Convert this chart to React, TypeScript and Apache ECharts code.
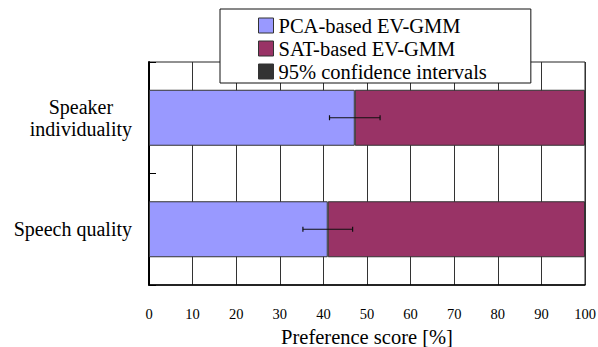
import React, { useEffect, useRef } from "react";
import * as echarts from "echarts";

const categories = ["Speaker\nindividuality", "Speech quality"];
const seriesNames = ["PCA-based EV-GMM", "SAT-based EV-GMM", "95% confidence intervals"];
const pcaScores = [47.2, 41.0];
const satScores = [52.8, 59.0];
const ciHalfWidth = [5.8, 5.7];
const xTicks = { min: 0, max: 100, interval: 10 };
const xAxisName = "Preference score [%]";

const FONT = "Liberation Serif";

export default function App() {
  const ref = useRef<HTMLDivElement>(null);
  useEffect(() => {
    if (!ref.current) return;
    const chart = echarts.init(ref.current, null, { renderer: "svg" });
    const errData = pcaScores.map((v, i) => [v - ciHalfWidth[i], v + ciHalfWidth[i], i]);
    chart.setOption({
      animation: false,
      backgroundColor: "#fff",
      textStyle: { fontFamily: FONT, color: "#000" },
      grid: {
        left: 149,
        right: 13,
        top: 62,
        bottom: 62,
        outerBoundsMode: "none",
        containLabel: false,
        show: true,
        borderColor: "#222",
        borderWidth: 1,
        backgroundColor: "transparent",
      },
      legend: {
        orient: "vertical",
        left: 220,
        top: 9,
        padding: [5, 44, 0, 38],
        itemGap: 0,
        itemWidth: 15,
        itemHeight: 15,
        itemTextGap: 5,
        backgroundColor: "#fff",
        borderColor: "#111",
        borderWidth: 1,
        itemStyle: { borderColor: "#333", borderWidth: 1 },
        formatter: "{t|{name}}",
        textStyle: {
          fontFamily: FONT,
          fontSize: 20.5,
          lineHeight: 23,
          color: "#000",
          rich: { t: { fontFamily: FONT, fontSize: 20.5, lineHeight: 23, color: "#000" } },
        },
        data: seriesNames.map((n) => ({ name: n, icon: "rect" })),
        z: 10,
      },
      xAxis: {
        type: "value",
        min: xTicks.min,
        max: xTicks.max,
        interval: xTicks.interval,
        name: `{t|${xAxisName}}`,
        nameLocation: "middle",
        nameGap: 41,
        nameTextStyle: {
          fontFamily: FONT,
          fontSize: 20.5,
          color: "#000",
          rich: { t: { fontFamily: FONT, fontSize: 20.5, color: "#000" } },
        },
        axisLine: { show: true, lineStyle: { color: "#000", width: 1.5 } },
        axisTick: { show: false },
        axisLabel: {
          fontFamily: FONT,
          fontSize: 14.5,
          color: "#000",
          margin: 21,
          formatter: (v: number) => `{t|${v}}`,
          rich: { t: { fontFamily: FONT, fontSize: 14.5, color: "#000" } },
        },
        splitLine: { show: true, lineStyle: { color: "#333", width: 1 } },
      },
      yAxis: {
        type: "category",
        inverse: true,
        data: categories,
        axisLine: { show: true, lineStyle: { color: "#000", width: 2 } },
        axisTick: { show: true, inside: true, length: 7, lineStyle: { color: "#000", width: 1 } },
        axisLabel: {
          margin: 17,
          fontFamily: FONT,
          fontSize: 20,
          lineHeight: 22,
          color: "#000",
          formatter: (v: string) => v.split("\n").map((l) => `{c|${l}}`).join("\n"),
          rich: { c: { align: "center", fontFamily: FONT, fontSize: 20, lineHeight: 22, color: "#000" } },
        },
        splitLine: { show: false },
      },
      series: [
        {
          name: seriesNames[0],
          type: "bar",
          stack: "total",
          barWidth: 56,
          data: pcaScores,
          itemStyle: { color: "#9999ff", borderColor: "#333", borderWidth: 1 },
        },
        {
          name: seriesNames[1],
          type: "bar",
          stack: "total",
          barWidth: 56,
          data: satScores,
          itemStyle: { color: "#993366", borderColor: "#333", borderWidth: 1 },
        },
        {
          name: seriesNames[2],
          type: "custom",
          z: 5,
          itemStyle: { color: "#333333" },
          encode: { x: [0, 1], y: 2 },
          data: errData,
          renderItem: (params: any, api: any) => {
            const cat = api.value(2);
            const p1 = api.coord([api.value(0), cat]);
            const p2 = api.coord([api.value(1), cat]);
            const h = 2.5;
            const st = { stroke: "#111", lineWidth: 1.2 };
            return {
              type: "group",
              children: [
                { type: "line", shape: { x1: p1[0], y1: p1[1], x2: p2[0], y2: p2[1] }, style: st },
                { type: "line", shape: { x1: p1[0], y1: p1[1] - h, x2: p1[0], y2: p1[1] + h }, style: st },
                { type: "line", shape: { x1: p2[0], y1: p2[1] - h, x2: p2[0], y2: p2[1] + h }, style: st },
              ],
            };
          },
        },
      ],
    });
    return () => chart.dispose();
  }, []);
  return <div ref={ref} style={{ width: 598, height: 347, position: "absolute", left: 0, top: 0 }} />;
}
